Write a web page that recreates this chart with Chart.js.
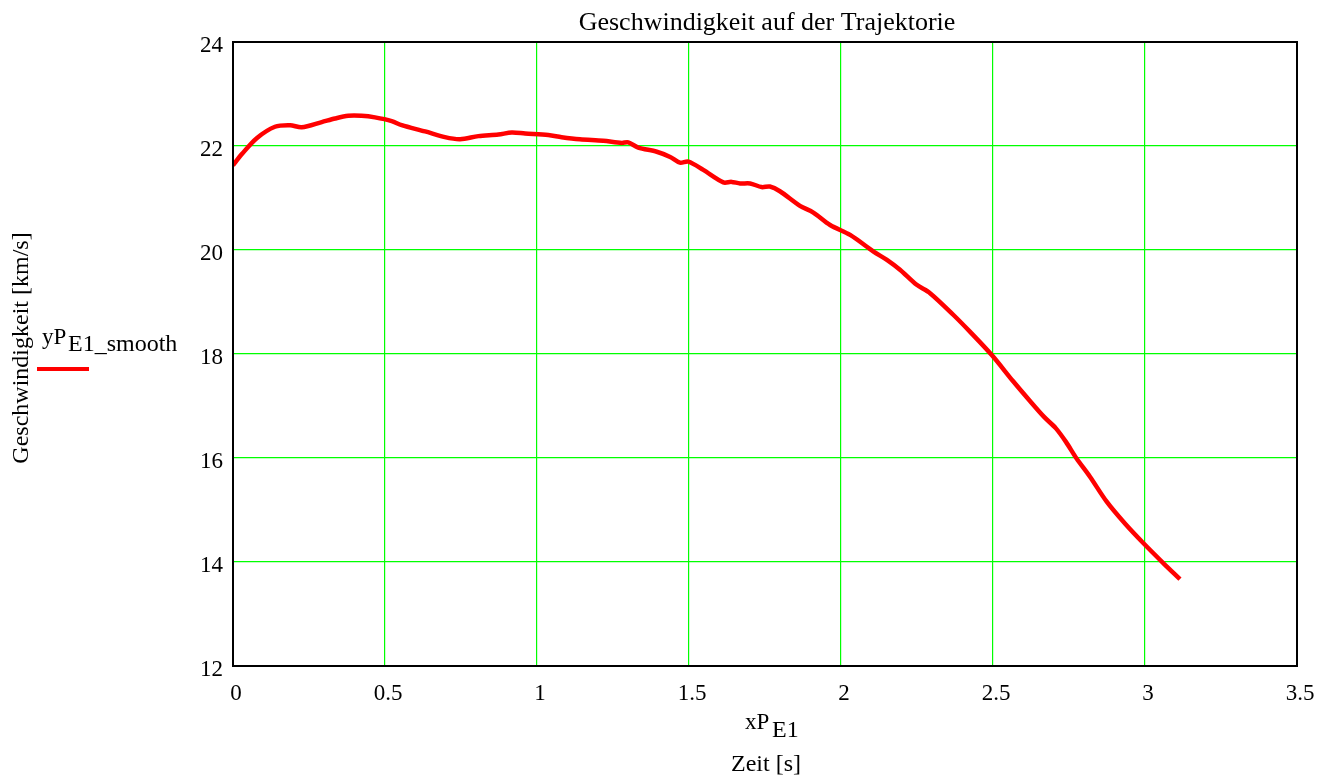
<!DOCTYPE html>
<html>
<head>
<meta charset="utf-8">
<script src="https://cdn.jsdelivr.net/npm/chart.js@4/dist/chart.umd.min.js"></script>
<style>
  html, body { margin: 0; padding: 0; background: #fff; }
  canvas { display: block; }
</style>
</head>
<body>
<canvas id="speedChart" width="1332" height="780"></canvas>
<script>
// Zeit [s] und Geschwindigkeit [km/s]
const timeValues = [0, 0.03, 0.078, 0.138, 0.188, 0.226, 0.292, 0.336, 0.379, 0.423, 0.467, 0.522, 0.555, 0.632, 0.697, 0.747, 0.807, 0.873, 0.917, 0.961, 1.037, 1.081, 1.141, 1.218, 1.279, 1.300, 1.333, 1.394, 1.438, 1.470, 1.498, 1.547, 1.613, 1.640, 1.668, 1.701, 1.739, 1.766, 1.799, 1.865, 1.909, 1.964, 2.03, 2.107, 2.151, 2.194, 2.249, 2.293, 2.37, 2.424, 2.496, 2.567, 2.618, 2.668, 2.707, 2.74, 2.775, 2.819, 2.874, 2.934, 2.995, 3.060, 3.115];
const speedValues = [21.63, 21.85, 22.15, 22.37, 22.40, 22.36, 22.46, 22.53, 22.58, 22.58, 22.55, 22.48, 22.40, 22.28, 22.17, 22.13, 22.19, 22.22, 22.26, 22.24, 22.21, 22.17, 22.13, 22.10, 22.06, 22.07, 21.97, 21.89, 21.79, 21.68, 21.70, 21.54, 21.30, 21.31, 21.28, 21.28, 21.21, 21.22, 21.13, 20.85, 20.72, 20.48, 20.29, 19.97, 19.81, 19.62, 19.33, 19.17, 18.75, 18.43, 17.98, 17.47, 17.12, 16.79, 16.57, 16.31, 15.99, 15.64, 15.16, 14.74, 14.36, 13.98, 13.67];
const xTicks = [0, 0.5, 1, 1.5, 2, 2.5, 3, 3.5];
const yTicks = [12, 14, 16, 18, 20, 22, 24];

const serif = '"Liberation Serif", "Times New Roman", serif';
const points = timeValues.map((t, i) => ({ x: t, y: speedValues[i] }));

// Beschriftungen mit Index (wie im Original) und Rahmen
const labelPlugin = {
    id: 'labels',
    afterDraw(chart) {
        const ctx = chart.ctx;
        const area = chart.chartArea;
        ctx.save();
        ctx.strokeStyle = '#000';
        ctx.lineWidth = 2;
        ctx.strokeRect(area.left, area.top, area.right - area.left, area.bottom - area.top);

        ctx.fillStyle = '#000';
        ctx.textBaseline = 'alphabetic';
        ctx.font = '26px ' + serif;
        ctx.textAlign = 'center';
        ctx.fillText('Geschwindigkeit auf der Trajektorie', 767, 30);
        ctx.font = '24px ' + serif;
        ctx.fillText('Zeit [s]', 766, 771);

        // x-Achse: xP mit Index E1
        ctx.textAlign = 'left';
        ctx.font = '23px ' + serif;
        ctx.fillText('xP', 745, 729);
        ctx.font = '24px ' + serif;
        ctx.fillText('E1', 772, 737);

        // Legende
        ctx.font = '23px ' + serif;
        ctx.fillText('yP', 42, 344);
        ctx.font = '24px ' + serif;
        ctx.fillText('E1_smooth', 68, 351);
        ctx.strokeStyle = '#ff0000';
        ctx.lineWidth = 4;
        ctx.beginPath();
        ctx.moveTo(37, 369);
        ctx.lineTo(89, 369);
        ctx.stroke();

        // y-Achsentitel
        ctx.translate(28, 348);
        ctx.rotate(-Math.PI / 2);
        ctx.textAlign = 'center';
        ctx.font = '24px ' + serif;
        ctx.fillText('Geschwindigkeit [km/s]', 0, 0);
        ctx.restore();
    }
};

new Chart(document.getElementById('speedChart').getContext('2d'), {
    type: 'line',
    data: {
        datasets: [{
            label: 'yP_E1_smooth',
            data: points,
            borderColor: '#ff0000',
            borderWidth: 4.5,
            pointRadius: 0,
            tension: 0.3,
            fill: false
        }]
    },
    options: {
        responsive: false,
        animation: false,
        layout: { padding: { left: 180, top: 42, right: 35, bottom: 64 } },
        plugins: {
            legend: { display: false },
            tooltip: { enabled: false }
        },
        scales: {
            x: {
                type: 'linear',
                min: xTicks[0],
                max: xTicks[xTicks.length - 1],
                afterBuildTicks: s => { s.ticks = xTicks.map(v => ({ value: v })); },
                afterFit: s => { s.height = 50; },
                grid: { color: () => '#00ff00', lineWidth: 1.2, drawTicks: false },
                border: { display: false },
                ticks: {
                    color: '#000', font: { family: serif, size: 23 }, padding: 14, maxRotation: 0,
                    labelOffset: 3,
                    callback: v => String(v)
                }
            },
            y: {
                min: yTicks[0],
                max: yTicks[yTicks.length - 1],
                afterBuildTicks: s => { s.ticks = yTicks.map(v => ({ value: v })); },
                afterFit: s => { s.width = 53; },
                grid: { color: () => '#00ff00', lineWidth: 1.2, drawTicks: false },
                border: { display: false },
                ticks: { color: '#000', font: { family: serif, size: 23 }, padding: 10, labelOffset: 4 }
            }
        }
    },
    plugins: [labelPlugin]
});
</script>
</body>
</html>
